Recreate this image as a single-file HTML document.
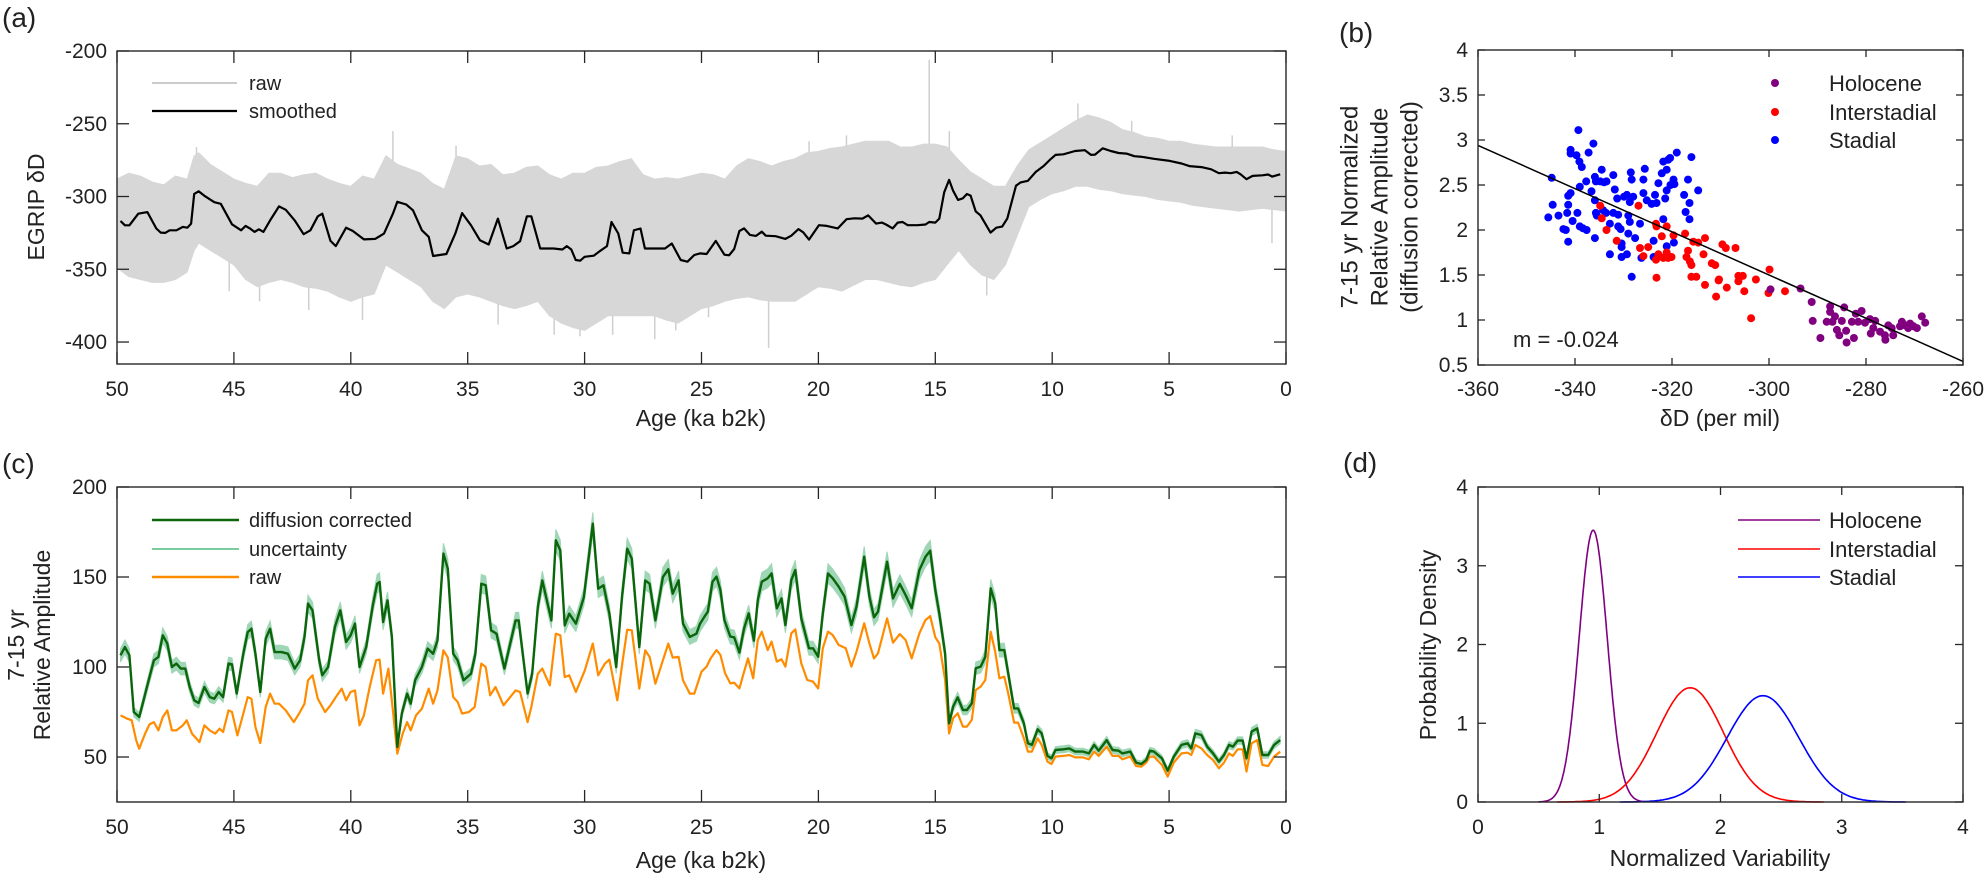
<!DOCTYPE html>
<html><head><meta charset="utf-8">
<style>
html,body{margin:0;padding:0;background:#fff;}
svg{display:block;font-family:"Liberation Sans",Arial,sans-serif;}
</style></head>
<body>
<svg id="fig" xmlns="http://www.w3.org/2000/svg" width="1986" height="874" viewBox="0 0 1986 874"></svg>
<script>
// ---------- Panel (a) data ----------
const aSmoothAge=[49.85,49.66,49.47,49.09,48.70,48.32,48.13,47.94,47.75,47.46,47.18,46.99,46.83,46.70,46.51,46.26,45.84,45.56,45.08,44.69,44.50,44.31,44.12,43.93,43.74,43.45,43.07,42.78,42.40,42.02,41.73,41.41,41.22,40.87,40.64,40.20,39.92,39.44,38.96,38.58,38.20,38.01,37.63,37.34,36.96,36.67,36.48,36.20,35.91,35.53,35.24,34.86,34.48,34.10,33.71,33.33,33.05,32.76,32.47,32.28,31.90,31.33,30.95,30.76,30.57,30.38,30.19,30.00,29.61,29.33,29.04,28.85,28.56,28.37,28.09,27.89,27.61,27.42,26.94,26.56,26.27,25.89,25.60,25.31,25.07,
24.78,24.39,24.02,23.82,23.60,23.38,23.18,22.93,22.67,22.42,22.25,21.83,21.41,21.16,20.85,20.65,20.40,19.98,19.64,19.17,18.80,18.46,18.12,17.87,17.53,17.28,17.11,16.82,16.61,16.40,16.18,15.76,15.42,15.26,15.00,14.83,14.62,14.41,14.24,14.03,13.82,13.65,13.49,13.27,13.07,12.64,12.39,12.14,11.92,11.55,11.35,11.04,10.70,10.37,10.11,9.86,9.52,9.02,8.60,8.34,8.17,7.84,7.50,7.16,6.82,6.49,6.15,5.65,4.97,4.47,4.13,3.62,3.20,2.87,2.61,2.36,2.11,1.94,1.69,1.43,1.01,0.76,0.59,0.25];
const aSmoothVal=[-316.8,-319.8,-319.8,-311.8,-310.7,-322,-324.8,-325,-323.2,-323.2,-320.9,-321.4,-318.6,-298.2,-296.4,-299.5,-303.9,-305,-319.1,-323.2,-320.2,-322,-324.3,-322.5,-324.3,-316.4,-306.8,-309.1,-316.4,-325.9,-323.2,-313.6,-311.8,-330.5,-334.1,-321.4,-323.6,-329.5,-329.1,-325.5,-311.8,-303.6,-305.5,-309.5,-323.2,-327.7,-340.9,-340.2,-339.5,-325.5,-311.4,-319.8,-330,-333,-315.2,-335.7,-334.1,-330.7,-313.6,-313.6,-335.7,-335.7,-336.4,-334.1,-336.4,-343.6,-344.1,-341.4,-340.7,-337.3,-334.1,-317.5,-325.5,-338.6,-339.1,-323.2,-322,-335.7,-335.7,-335.7,-332.3,-343.6,-344.8,-340.2,-339.1,
-339.5,-330.5,-340,-340.4,-336.1,-323.7,-321.9,-326.4,-327.1,-324.2,-326.9,-327.3,-329.1,-326.9,-322.4,-324.6,-329.6,-319.7,-320.2,-321.9,-315.6,-315,-315.2,-313,-318.6,-317.9,-319.2,-321.9,-317.9,-317.5,-319.7,-319.7,-319.2,-317.5,-317.9,-315.2,-297.1,-288.6,-296,-302.3,-301.2,-298.3,-299.4,-310.2,-312.9,-324.8,-321.4,-320.7,-315.1,-292.6,-290.3,-289.2,-283.1,-279.1,-275,-271.4,-271,-268.7,-268.2,-271.4,-271.2,-266.9,-268.7,-270.1,-270.5,-272.3,-272.8,-274.1,-275.5,-277.3,-279.1,-279.8,-281.3,-284,-283.6,-284,-283.1,-284.7,-288.1,-285.8,-285.4,-284.9,-286.3,-284.7];
const aRawAge=[50,49.5,49,48.5,48,47.5,47,46.7,46.5,46,45.5,45,44.5,44,43.5,43,42.5,42,41.5,41,40.5,40,39.5,39,38.5,38,37.5,37,36.5,36,35.5,35,34.5,34,33.5,33,32.5,32,31.5,31,30.5,30,29.5,29,28.5,28,27.5,27,26.5,26,25.5,25,24.5,24,23.5,23,22.5,22,21.5,21,20.5,20,19.5,19,18.5,18,17.5,17,16.5,16,15.5,15,14.5,14,13.5,13,12.5,12,11.5,11,10.5,10,9.5,9,8.5,8,7.5,7,6.5,6,5.5,5,4.5,4,3.5,3,2.5,2,1.5,1,0.5,0];
const aRawHi=[-288,-284,-286,-290,-292,-286,-288,-272,-270,-278,-283,-288,-291,-293,-284,-284,-287,-285,-284,-288,-291,-293,-286,-288,-272,-278,-281,-284,-291,-295,-272,-274,-279,-278,-285,-284,-280,-279,-285,-288,-284,-284,-280,-279,-276,-274,-285,-288,-287,-288,-286,-284,-285,-288,-279,-274,-276,-279,-276,-274,-270,-269,-267,-266,-264,-262,-262,-262,-266,-266,-264,-264,-266,-275,-283,-288,-293,-293,-279,-268,-263,-258,-253,-248,-244,-246,-249,-254,-256,-259,-260,-262,-262,-264,-265,-266,-266,-266,-266,-266,-268,-269];
const aRawLo=[-349,-355,-357,-359,-359,-357,-352,-337,-332,-337,-342,-347,-357,-362,-359,-357,-359,-362,-363,-365,-369,-372,-369,-367,-347,-352,-357,-362,-372,-377,-369,-367,-369,-372,-375,-377,-375,-372,-382,-387,-390,-392,-387,-382,-382,-382,-382,-382,-385,-387,-382,-377,-375,-372,-370,-369,-371,-372,-372,-372,-367,-362,-363,-365,-361,-357,-357,-359,-361,-362,-359,-357,-347,-337,-347,-354,-357,-347,-327,-307,-302,-298,-296,-293,-293,-295,-296,-298,-299,-300,-302,-303,-304,-306,-307,-308,-309,-310,-309,-308,-309,-310];
const aSpikeAge=[15.26,22.13,38.2,35.5,30.2,27.0,46.6,45.2,43.9,41.8,39.5,33.7,31.3,28.8,26.1,24.7,20.4,18.8,14.4,12.8,8.9,6.6,2.3,0.6];
const aSpikeVal=[-206,-404,-255,-265,-396,-398,-266,-365,-372,-378,-385,-388,-395,-395,-392,-383,-262,-258,-255,-368,-236,-248,-258,-332];
const aXTicks=[50,45,40,35,30,25,20,15,10,5,0];
const aYTicks=[-200,-250,-300,-350,-400];

// ---------- Panel (c) data ----------
const cGreenAge=[49.85,49.66,49.47,49.28,49.05,48.90,48.61,48.42,48.23,48.04,47.85,47.65,47.46,47.27,47.08,46.89,46.70,46.51,46.26,46.03,45.84,45.65,45.46,45.23,45.08,44.88,44.60,44.41,44.25,44.08,43.87,43.64,43.45,43.26,42.97,42.69,42.40,42.17,41.98,41.83,41.64,41.35,41.22,40.97,40.68,40.45,40.20,40.01,39.82,39.63,39.34,39.06,38.87,38.77,38.62,38.43,38.24,38.01,37.82,37.59,37.44,37.25,36.96,36.71,36.48,36.29,36.04,35.85,35.62,35.43,35.18,34.86,34.67,34.42,34.23,34.00,33.77,33.43,32.95,32.82,32.44,32.24,32.00,31.81,31.42,31.23,31.04,30.85,30.66,30.37,30.03,29.65,29.42,29.19,28.94,28.65,28.40,28.18,27.98,27.66,27.41,27.22,26.97,26.65,26.42,26.23,25.98,25.79,25.50,25.22,25.06,
24.87,24.73,24.53,24.36,24.19,24.02,23.77,23.60,23.38,23.18,22.98,22.76,22.59,22.42,22.17,22.00,21.78,21.58,21.41,21.16,20.99,20.73,20.40,20.23,20.01,19.81,19.59,19.39,19.13,18.88,18.59,18.37,18.04,17.82,17.62,17.45,17.06,16.81,16.52,16.27,16.01,15.68,15.42,15.22,15.00,14.83,14.58,14.41,14.24,14.04,13.82,13.65,13.44,13.27,13.06,12.86,12.63,12.44,12.26,12.05,11.88,11.63,11.46,11.21,11.04,10.87,10.62,10.45,10.20,10.03,9.86,9.52,9.27,9.02,8.68,8.43,8.21,8.01,7.67,7.42,7.16,7.00,6.66,6.41,6.19,5.98,5.82,5.65,5.31,5.06,4.80,4.47,4.21,4.05,3.88,3.62,3.37,3.12,2.87,2.65,2.44,2.27,2.07,1.85,1.69,1.47,1.23,1.01,0.76,0.51,0.25];
const cGreen=[106.5,111.1,106.5,75.0,72.2,79.6,94.4,103.7,105.6,117.6,113.0,100.0,101.9,99.1,99.1,88.9,81.5,80.0,88.9,83.3,82.4,86.1,83.3,101.9,101.5,85.2,107.4,119.4,121.3,107.4,86.1,115.7,121.3,108.3,108.3,107.4,99.1,103.7,116.7,135.2,131.5,103.7,95.4,100.0,122.2,131.5,113.9,117.6,124.1,100.0,111.1,134.3,146.3,147.2,125.0,137.0,116.7,55.6,74.1,85.2,79.6,92.6,100.0,110.2,107.4,114.8,163.0,154.6,107.4,103.7,92.6,96.3,107.4,146.3,145.4,120.4,118.5,99.1,125.9,125.9,85.2,96.3,133.3,148.1,125.9,170.4,164.8,123.1,129.6,124.1,138.9,179.6,143.5,145.4,129.6,100.0,138.9,165.7,160.2,111.1,148.1,146.3,125.9,150.0,154.3,140.7,148.1,124.1,116.7,118.5,124.1,
128.0,130.7,147.4,150.2,142.8,126.1,116.9,116.5,108.0,121.5,129.8,114.6,137.2,147.4,149.3,152.0,132.6,138.1,123.3,148.3,153.9,127.0,110.4,110.4,105.7,129.8,152.0,149.3,144.6,139.1,123.3,133.5,161.3,139.1,127.6,130.7,158.5,138.1,146.1,140.0,132.6,153.9,161.3,164.6,142.8,129.8,107.6,68.7,78.0,83.1,76.1,76.1,79.8,99.3,100.2,105.7,143.7,135.4,109.4,109.4,96.5,77.0,77.0,68.7,57.6,56.7,65.4,63.1,50.6,49.3,53.9,54.3,54.8,53.0,53.0,52.0,56.7,53.5,59.4,53.9,53.5,52.0,53.0,46.9,46.1,48.3,53.5,53.0,49.3,42.4,50.2,56.7,57.6,54.8,63.1,62.2,55.7,52.0,47.4,51.1,56.7,55.7,59.1,59.1,49.3,64.1,65.9,51.1,51.1,56.7,59.4];
const cRawAge=[49.85,49.56,49.37,49.18,49.05,48.80,48.61,48.42,48.23,48.04,47.85,47.65,47.46,47.18,47.02,46.79,46.47,46.26,46.03,45.80,45.61,45.46,45.23,45.08,44.85,44.60,44.41,44.25,44.08,43.87,43.64,43.45,43.26,43.07,42.78,42.44,42.21,41.98,41.83,41.64,41.41,41.10,40.87,40.64,40.39,40.20,40.01,39.82,39.63,39.44,39.19,38.92,38.77,38.62,38.39,38.20,38.01,37.78,37.59,37.44,37.21,36.96,36.67,36.48,36.29,36.04,35.85,35.62,35.43,35.24,34.95,34.70,34.42,34.23,34.04,33.81,33.47,32.95,32.76,32.44,32.28,32.00,31.81,31.49,31.23,31.04,30.85,30.66,30.37,29.99,29.65,29.42,29.13,28.94,28.60,28.37,28.18,27.98,27.66,27.41,27.22,26.97,26.65,26.42,26.23,25.98,25.79,25.50,25.31,
25.00,24.78,24.61,24.36,24.19,23.99,23.77,23.60,23.38,23.18,23.01,22.79,22.59,22.42,22.17,22.00,21.78,21.58,21.41,21.16,20.99,20.73,20.48,20.23,20.01,19.81,19.59,19.39,19.13,18.83,18.59,18.37,18.04,17.82,17.62,17.45,17.06,16.81,16.52,16.27,16.01,15.68,15.42,15.22,15.00,14.83,14.58,14.41,14.24,14.04,13.82,13.65,13.44,13.27,13.06,12.86,12.63,12.44,12.26,12.05,11.88,11.63,11.46,11.21,11.04,10.87,10.62,10.45,10.20,10.03,9.86,9.52,9.27,9.02,8.68,8.43,8.21,8.01,7.67,7.42,7.16,7.00,6.66,6.41,6.19,5.98,5.82,5.65,5.31,5.06,4.80,4.47,4.21,4.05,3.88,3.62,3.37,3.12,2.87,2.65,2.44,2.27,2.07,1.85,1.69,1.47,1.23,1.01,0.76,0.51,0.25];
const cRaw=[73.1,71.3,70.4,59.3,54.6,63.0,68.1,69.4,64.8,72.2,75.9,64.8,64.8,67.6,70.4,63.0,58.3,67.6,64.8,63.0,65.7,63.9,75.9,75.0,62.0,74.1,83.3,82.4,66.7,57.8,77.8,85.2,79.6,79.6,75.9,69.4,74.1,79.6,92.6,95.4,82.4,75.0,78.7,83.3,88.0,81.5,86.1,87.0,67.6,73.1,88.9,103.7,104.1,85.2,99.1,75.9,51.9,63.0,69.4,64.8,73.1,76.9,88.0,79.6,87.0,109.3,105.2,83.3,80.6,74.1,75.0,77.8,101.9,100.0,84.3,88.9,78.7,87.0,86.1,69.4,77.8,96.3,99.1,89.8,118.5,117.6,94.4,95.4,86.1,98.1,113.0,95.4,101.9,104.1,81.5,103.7,120.7,120.4,88.0,109.3,105.6,90.7,103.7,113.0,105.2,105.6,92.6,85.2,85.2,
97.4,100.2,104.8,109.4,106.7,96.5,90.9,91.3,88.1,97.4,104.8,93.7,115.0,119.6,109.4,114.1,103.0,104.3,100.2,118.7,120.9,102.0,92.8,91.9,88.1,110.4,119.6,117.8,112.2,110.4,100.2,108.5,124.3,113.1,104.8,107.6,127.0,113.5,118.3,115.0,104.8,118.7,126.1,128.3,116.5,113.1,92.8,63.1,71.5,74.3,66.9,66.9,70.6,87.2,89.1,92.8,119.6,108.5,93.7,94.6,85.4,69.1,69.1,60.4,53.0,53.0,60.4,56.7,47.4,46.1,50.2,50.6,51.1,49.8,49.8,48.7,53.0,50.6,55.7,50.6,50.6,48.7,50.2,45.0,44.6,46.9,50.2,50.2,45.6,39.1,46.9,52.0,52.4,51.1,56.7,54.8,51.1,48.3,43.7,46.9,52.0,50.6,54.3,54.3,41.9,57.6,59.4,45.6,45.0,50.2,53.0];
const cUncFrac=[0.035];
const cYTicks=[50,100,150,200];

// ---------- Panel (b) data ----------
const bBlueX=[-344.8,-345.5,-344.6,-343.4,-342.4,-341.9,-341.4,-341.4,-340.9,-341.4,-341.6,-340.9,-340.9,-339.7,-339.3,-339.1,-338.6,-339.0,-340.5,-339.5,-339.0,-338.4,-337.6,-337.7,-336.6,-336.2,-337.2,-335.9,-335.7,-335.9,-335.7,-335.9,-335.5,-334.8,-334.5,-334.0,-333.5,-334.2,-333.6,-332.8,-332.8,-332.1,-331.8,-332.1,-331.3,-331.1,-331.1,-330.6,-330.4,-330.4,-330.4,-329.9,-329.3,-329.0,-329.0,-328.7,-328.7,-329.3,-328.5,-328.3,-328.3,-328.0,-327.6,-326.6,-326.3,-325.9,-325.9,-325.6,-325.2,-324.2,-323.8,-323.5,-323.8,-323.2,-322.8,-322.1,-321.8,-321.8,-321.4,-321.1,-321.1,-321.1,-320.8,-320.4,-320.3,-319.7,-319.6,-319.5,-319.0,-317.5,-317.2,-316.7,-316.4,-316.4,-316.0,-314.6];
const bBlueY=[2.58,2.14,2.28,2.16,2.01,2.0,1.87,2.28,2.41,2.38,2.19,2.85,2.89,2.83,3.11,2.76,2.70,2.48,2.10,2.19,2.04,2.02,2.0,2.54,2.43,2.96,2.86,2.59,2.54,2.33,2.19,1.91,2.16,2.54,2.67,2.53,2.54,2.22,2.19,2.07,1.73,2.61,2.45,2.19,2.35,2.17,2.04,2.01,1.85,1.81,1.70,2.37,2.39,2.16,1.96,2.09,2.31,1.73,2.64,2.56,1.48,2.37,1.91,2.07,1.69,2.56,2.41,2.68,2.33,2.29,1.88,2.39,1.70,2.30,2.52,2.63,2.76,2.12,2.35,2.67,2.44,1.82,2.78,2.80,2.50,2.56,1.86,2.51,2.86,2.39,2.20,2.56,2.30,2.12,2.81,2.44];
const bRedX=[-334.8,-334.5,-333.5,-331.4,-326.9,-326.6,-325.9,-324.9,-323.3,-323.2,-323.3,-323.2,-322.8,-322.1,-321.8,-321.1,-321.1,-320.8,-320.1,-319.7,-317.3,-317.0,-316.7,-316.3,-316.0,-315.6,-316.0,-315.0,-314.6,-313.5,-313.2,-313.2,-311.8,-311.1,-310.9,-310.4,-309.6,-308.9,-306.9,-310.3,-308.7,-306.3,-305.4,-306.3,-305.1,-302.7,-299.9,-300.1,-296.7,-303.7];
const bRedY=[2.27,2.13,2.0,1.88,2.27,1.80,1.71,1.81,2.07,2.04,1.67,1.47,1.73,1.93,1.69,2.04,1.75,1.69,1.70,1.94,1.96,1.70,1.77,1.65,1.61,1.87,1.48,1.48,1.86,1.73,1.39,1.91,1.63,1.61,1.26,1.44,1.84,1.80,1.80,1.45,1.36,1.49,1.49,1.43,1.32,1.45,1.56,1.30,1.32,1.02];
const bPurpleX=[-299.7,-293.5,-291.2,-291.0,-289.4,-287.4,-287.4,-288.1,-286.9,-286.4,-286.0,-285.5,-284.5,-285.0,-284.1,-282.9,-282.1,-281.6,-280.9,-280.2,-279.2,-278.5,-278.1,-277.1,-276.1,-275.4,-274.7,-274.4,-273.0,-272.6,-271.9,-271.3,-270.9,-270.2,-269.5,-268.5,-267.8,-284.0,-282.5,-279.0,-276.0];
const bPurpleY=[1.34,1.35,1.20,0.99,0.80,1.15,1.09,0.98,0.98,1.04,0.89,0.83,1.14,0.99,0.88,0.98,1.07,0.98,1.10,0.97,1.01,0.91,0.99,0.87,0.83,0.94,0.91,0.83,0.93,0.98,0.94,0.91,0.96,0.93,0.91,1.04,0.97,0.75,0.80,0.85,0.78];
const bFitSlope=[-0.024];
const bFitAtMinus360=[2.94];
const bXTicks=[-360,-340,-320,-300,-280,-260];
const bYTicks=[0.5,1,1.5,2,2.5,3,3.5,4];

// ---------- Panel (d) data ----------
const dNames=["Holocene","Interstadial","Stadial"];
const dMeans=[0.95,1.75,2.35];
const dSds=[0.1156,0.275,0.2955];
const dFrom=[0.5,0.65,1.17];
const dTo=[1.38,2.85,3.53];
const dXTicks=[0,1,2,3,4];
const dYTicks=[0,1,2,3,4];

// ---------- rendering ----------
const NS="http://www.w3.org/2000/svg";
const svg=document.getElementById('fig');
function mk(tag,attrs,parent){const e=document.createElementNS(NS,tag);for(const k in attrs)e.setAttribute(k,attrs[k]);(parent||svg).appendChild(e);return e;}
function lin(d0,d1,r0,r1){return v=>r0+(v-d0)*(r1-r0)/(d1-d0);}
const AX="#262626";

function txt(x,y,s,size,anchor,name,extra){
  const t=mk('text',Object.assign({x:x,y:y,'font-size':size,'text-anchor':anchor||'start',fill:'#222'},extra||{}));
  t.textContent=s;
  
  
  return t;
}
function box(x0,y0,x1,y1,name){
  const r=mk('rect',{x:x0,y:y0,width:x1-x0,height:y1-y0,fill:'none',stroke:AX,'stroke-width':1.4});
  
  
}
function xticks(ticks,sx,y0,y1,len,labY,name,fmt){
  ticks.forEach(t=>{
    const x=sx(t);
    const l1=mk('line',{x1:x,x2:x,y1:y1,y2:y1-len,stroke:AX,'stroke-width':1.3});
    
    
    const l2=mk('line',{x1:x,x2:x,y1:y0,y2:y0+len,stroke:AX,'stroke-width':1.3});
    
    
    txt(x,labY,fmt?fmt(t):String(t),21,'middle',name+'-tick-label');
  });
}
function yticks(ticks,sy,x0,x1,len,name,fmt){
  ticks.forEach(t=>{
    const y=sy(t);
    const l1=mk('line',{x1:x0,x2:x0+len,y1:y,y2:y,stroke:AX,'stroke-width':1.3});
    
    
    const l2=mk('line',{x1:x1,x2:x1-len,y1:y,y2:y,stroke:AX,'stroke-width':1.3});
    
    
    txt(x0-10,y+7,fmt?fmt(t):String(t),21,'end',name+'-tick-label');
  });
}
function pathFrom(xs,ys,sx,sy){return xs.map((v,i)=>(i?'L':'M')+sx(v).toFixed(1)+' '+sy(ys[i]).toFixed(1)).join(' ');}
function rotLabel(x,y,s,size,name){
  const t=mk('text',{x:0,y:0,'font-size':size,'text-anchor':'middle','dominant-baseline':'central',fill:'#222',transform:`translate(${x},${y}) rotate(-90)`});
  t.textContent=s;
  
  
  return t;
}
function interp(xs,ys,x){
  for(let i=0;i<xs.length-1;i++){
    if((x<=xs[i]&&x>=xs[i+1])){const f=(x-xs[i])/(xs[i+1]-xs[i]);return ys[i]+f*(ys[i+1]-ys[i]);}
  }
  return ys[ys.length-1];
}

// ===== Panel A =====
(function(){
  const x0=117,x1=1286,y0=51,y1=364;
  const sx=lin(50,0,x0,x1), sy=lin(-200,-415.1,y0,y1);
  const g=mk('g',{});
  
  
  let d='M'+aRawAge.map((a,i)=>sx(a).toFixed(1)+' '+sy(aRawHi[i]).toFixed(1)).join(' L');
  for(let i=aRawAge.length-1;i>=0;i--) d+=' L'+sx(aRawAge[i]).toFixed(1)+' '+sy(aRawLo[i]).toFixed(1);
  const raw=mk('path',{d:d+'Z',fill:'#d7d7d7',stroke:'#d7d7d7','stroke-width':1},g);
  
  
  aSpikeAge.forEach((a,i)=>{
    const up=aSpikeVal[i]>interp(aSmoothAge,aSmoothVal,a);
    const base=up?interp(aRawAge,aRawHi,a):interp(aRawAge,aRawLo,a);
    const sp=mk('line',{x1:sx(a),x2:sx(a),y1:sy(base),y2:sy(aSpikeVal[i]),stroke:'#cfcfcf','stroke-width':1.5},g);
    
    
  });
  const sm=mk('path',{d:pathFrom(aSmoothAge,aSmoothVal,sx,sy),fill:'none',stroke:'#000','stroke-width':2.2,'stroke-linejoin':'round'},g);
  
  
  box(x0,y0,x1,y1,'panel-a-axes');
  xticks(aXTicks,sx,y0,y1,12,396,'a-x');
  yticks(aYTicks,sy,x0,x1,12,'a-y');
  txt(701,426,'Age (ka b2k)',23,'middle','a-x-axis-title');
  rotLabel(36,207,'EGRIP \u03B4D',23,'a-y-axis-title');
  txt(2,27,'(a)',28,'start','panel-a-label');
  const l1=mk('line',{x1:152,x2:237,y1:83,y2:83,stroke:'#cccccc','stroke-width':2});
  
  
  txt(249,90,'raw',20,'start','legend-raw-label');
  const l2=mk('line',{x1:152,x2:237,y1:111,y2:111,stroke:'#000','stroke-width':2.2});
  
  
  txt(249,118,'smoothed',20,'start','legend-smoothed-label');
})();

// ===== Panel C =====
(function(){
  const x0=117,x1=1286,y0=487,y1=802;
  const sx=lin(50,0,x0,x1), sy=lin(200,25,y0,y1);
  const f=cUncFrac[0];
  let d='M'+cGreenAge.map((a,i)=>sx(a).toFixed(1)+' '+sy(cGreen[i]*(1+f)).toFixed(1)).join(' L');
  for(let i=cGreenAge.length-1;i>=0;i--) d+=' L'+sx(cGreenAge[i]).toFixed(1)+' '+sy(cGreen[i]*(1-f)).toFixed(1);
  const band=mk('path',{d:d+'Z',fill:'#9fd6b5',stroke:'#9fd6b5','stroke-width':1});
  
  
  const raw=mk('path',{d:pathFrom(cRawAge,cRaw,sx,sy),fill:'none',stroke:'#ff8c00','stroke-width':2.2,'stroke-linejoin':'round'});
  
  
  const gr=mk('path',{d:pathFrom(cGreenAge,cGreen,sx,sy),fill:'none',stroke:'#0b650b','stroke-width':2.4,'stroke-linejoin':'round'});
  
  
  box(x0,y0,x1,y1,'panel-c-axes');
  xticks(aXTicks,sx,y0,y1,12,834,'c-x');
  yticks(cYTicks,sy,x0,x1,12,'c-y');
  txt(701,868,'Age (ka b2k)',23,'middle','c-x-axis-title');
  rotLabel(16,645,'7-15 yr',23,'c-y-axis-title-line1');
  rotLabel(42,645,'Relative Amplitude',23,'c-y-axis-title-line2');
  txt(2,473,'(c)',28,'start','panel-c-label');
  const cols=['#0b650b','#4cbb7f','#ff8c00'], names=['diffusion corrected','uncertainty','raw'], ws=[2.6,1.6,2.6];
  [520,549,577].forEach((y,i)=>{
    const l=mk('line',{x1:152,x2:239,y1:y,y2:y,stroke:cols[i],'stroke-width':ws[i]});
    
    
    txt(249,y+7,names[i],20,'start','legend-label-'+i);
  });
})();

// ===== Panel B =====
(function(){
  const x0=1478,x1=1963,y0=50,y1=365;
  const sx=lin(-360,-260,x0,x1), sy=lin(4,0.5,y0,y1);
  const clip=mk('clipPath',{id:'clipb'});
  mk('rect',{x:x0,y:y0,width:x1-x0,height:y1-y0},clip);
  const groups=[[bBlueX,bBlueY,'#0000ff','stadial-point'],[bRedX,bRedY,'#ff0000','interstadial-point'],[bPurpleX,bPurpleY,'#800080','holocene-point']];
  groups.forEach(gp=>{
    gp[0].forEach((v,i)=>{
      const c=mk('circle',{cx:sx(v).toFixed(1),cy:sy(gp[1][i]).toFixed(1),r:4,fill:gp[2]});
      
      
    });
  });
  const fy=x=>bFitAtMinus360[0]+bFitSlope[0]*(x+360);
  const fl=mk('line',{x1:sx(-360),y1:sy(fy(-360)),x2:sx(-260),y2:sy(fy(-260)),stroke:'#000','stroke-width':1.5,'clip-path':'url(#clipb)'});
  
  
  box(x0,y0,x1,y1,'panel-b-axes');
  xticks(bXTicks,sx,y0,y1,7,396,'b-x');
  yticks(bYTicks,sy,x0,x1,7,'b-y');
  txt(1720,426,'\u03B4D (per mil)',23,'middle','b-x-axis-title');
  rotLabel(1350,207,'7-15 yr Normalized',24,'b-y-axis-title-line1');
  rotLabel(1380,207,'Relative Amplitude',24,'b-y-axis-title-line2');
  rotLabel(1410,207,'(diffusion corrected)',24,'b-y-axis-title-line3');
  txt(1339,42,'(b)',28,'start','panel-b-label');
  txt(1513,347,'m = -0.024',22,'start','slope-annotation');
  const lc=['#800080','#ff0000','#0000ff'], ln=['Holocene','Interstadial','Stadial'];
  [83,112,140].forEach((y,i)=>{
    const c=mk('circle',{cx:1775,cy:y,r:4,fill:lc[i]});
    
    
    txt(1829,y+8,ln[i],22,'start','legend-label-'+ln[i].toLowerCase());
  });
})();

// ===== Panel D =====
(function(){
  const x0=1478,x1=1963,y0=487,y1=802;
  const sx=lin(0,4,x0,x1), sy=lin(4,0,y0,y1);
  const cols=['#800080','#ff0000','#0000ff'];
  dMeans.forEach((m,k)=>{
    const s=dSds[k]; let d='';
    const n=160;
    for(let i=0;i<=n;i++){
      const x=dFrom[k]+(dTo[k]-dFrom[k])*i/n;
      const y=Math.exp(-0.5*((x-m)/s)**2)/(s*Math.sqrt(2*Math.PI));
      d+=(i?'L':'M')+sx(x).toFixed(1)+' '+sy(y).toFixed(1)+' ';
    }
    const p=mk('path',{d:d,fill:'none',stroke:cols[k],'stroke-width':1.6});
    
    
  });
  box(x0,y0,x1,y1,'panel-d-axes');
  xticks(dXTicks,sx,y0,y1,8,834,'d-x');
  yticks(dYTicks,sy,x0,x1,8,'d-y');
  txt(1720,866,'Normalized Variability',23,'middle','d-x-axis-title');
  rotLabel(1428,645,'Probability Density',23,'d-y-axis-title');
  txt(1343,472,'(d)',28,'start','panel-d-label');
  [520,549,577].forEach((y,i)=>{
    const l=mk('line',{x1:1738,x2:1820,y1:y,y2:y,stroke:cols[i],'stroke-width':1.6});
    
    
    txt(1829,y+8,dNames[i],22,'start','legend-label-'+dNames[i].toLowerCase());
  });
})();
</script>
</body></html>
